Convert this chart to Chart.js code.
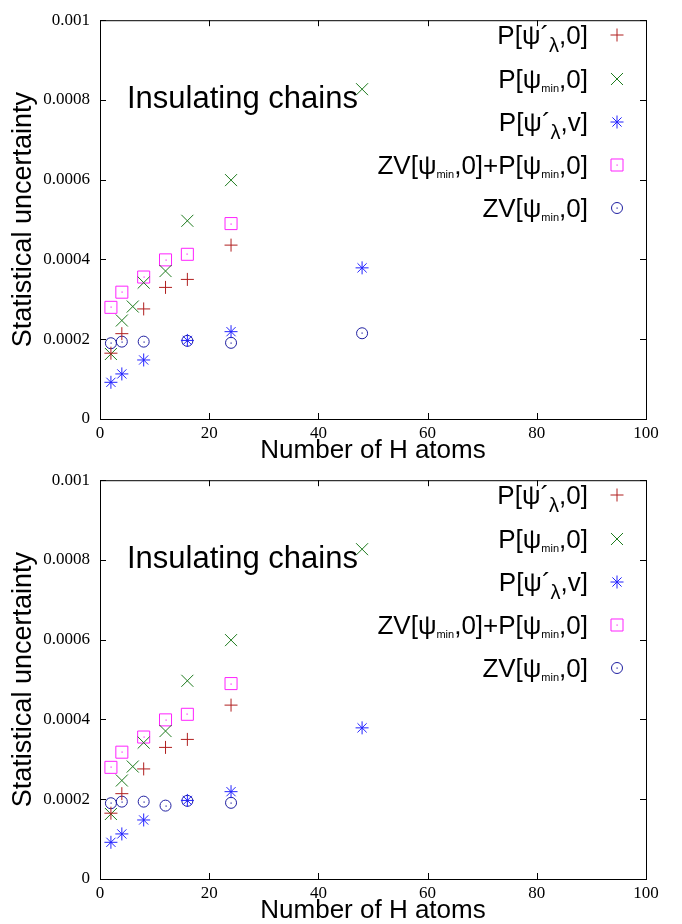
<!DOCTYPE html>
<html>
<head>
<meta charset="utf-8">
<script src="https://cdn.jsdelivr.net/npm/chart.js@4/dist/chart.umd.min.js"></script>
<style>
  body { margin: 0; background: #fff; }
  .panel { width: 682px; height: 460px; }
  canvas { display: block; }
</style>
</head>
<body>
<div class="panel"><canvas id="top" width="682" height="460"></canvas></div>
<div class="panel"><canvas id="bottom" width="682" height="460"></canvas></div>
<script>
// statistical uncertainty vs number of H atoms
const atomsPLambda0 = [2, 4, 8, 12, 16, 24];
const pLambda0 = [0.000165, 0.000214, 0.000276, 0.00033, 0.00035, 0.000436];

const atomsPMin0 = [2, 4, 6, 8, 12, 16, 24, 48];
const pMin0 = [0.000163, 0.000247, 0.000282, 0.000342, 0.000371, 0.000497, 0.000599, 0.000827];

const atomsPLambdaV = [2, 4, 8, 16, 24, 48];
const pLambdaV = [0.000092, 0.000113, 0.000148, 0.000197, 0.000219, 0.000379];

const atomsZvPlusP = [2, 4, 8, 12, 16, 24];
const zvPlusP = [0.00028, 0.000318, 0.000356, 0.000399, 0.000413, 0.00049];

const atomsZvTop = [2, 4, 8, 16, 24, 48];
const zvTop = [0.00019, 0.000194, 0.000194, 0.000196, 0.000191, 0.000215];

const atomsZvBottom = [2, 4, 8, 12, 16, 24];
const zvBottom = [0.00019, 0.000194, 0.000194, 0.000184, 0.000196, 0.000191];

const xTicks = [0, 20, 40, 60, 80, 100];
const yTicks = [0, 0.0002, 0.0004, 0.0006, 0.0008, 0.001];

const sans = '"Liberation Sans", Arial, sans-serif';
const serif = '"Liberation Serif", "Times New Roman", serif';

// legend labels as rich text pieces: [text, size, dy]
const legendLabels = [
  [['P[ψ´', 26, 0], ['λ', 20, 8], [',0]', 26, 0]],
  [['P[ψ', 26, 0], ['min', 11, 4], [',0]', 26, 0]],
  [['P[ψ´', 26, 0], ['λ', 20, 8], [',v]', 26, 0]],
  [['ZV[ψ', 26, 0], ['min', 11, 4], [',0]+P[ψ', 26, 0], ['min', 11, 4], [',0]', 26, 0]],
  [['ZV[ψ', 26, 0], ['min', 11, 4], [',0]', 26, 0]]
];

const toPoints = (xs, ys) => xs.map((x, i) => ({ x: x, y: ys[i] }));

const framePlugin = {
  id: 'frame',
  beforeDatasetsDraw(chart) {
    const { ctx, chartArea: a, scales } = chart;
    ctx.save();
    ctx.strokeStyle = '#000';
    ctx.lineWidth = 1;
    ctx.strokeRect(a.left + 0.5, a.top + 0.5, a.right - a.left, a.bottom - a.top);
    ctx.beginPath();
    xTicks.forEach(v => {
      const px = Math.round(scales.x.getPixelForValue(v)) + 0.5;
      ctx.moveTo(px, a.bottom); ctx.lineTo(px, a.bottom - 6);
      ctx.moveTo(px, a.top); ctx.lineTo(px, a.top + 6);
    });
    yTicks.forEach(v => {
      const py = Math.round(scales.y.getPixelForValue(v)) + 0.5;
      ctx.moveTo(a.left, py); ctx.lineTo(a.left + 6, py);
      ctx.moveTo(a.right, py); ctx.lineTo(a.right - 6, py);
    });
    ctx.stroke();
    ctx.restore();
  }
};

// small dot in the middle of the square and circle markers
const dotPlugin = {
  id: 'dots',
  afterDatasetsDraw(chart) {
    const ctx = chart.ctx;
    ctx.save();
    chart.data.datasets.forEach((ds, i) => {
      if (!ds.centerDot) return;
      ctx.fillStyle = ds.borderColor;
      chart.getDatasetMeta(i).data.forEach(pt => {
        ctx.fillRect(Math.round(pt.x) - 0.5, Math.round(pt.y) - 0.5, 1.2, 1.2);
      });
    });
    ctx.restore();
  }
};

const notePlugin = {
  id: 'notes',
  afterDraw(chart) {
    const ctx = chart.ctx;
    ctx.save();
    ctx.fillStyle = '#000';
    ctx.textBaseline = 'alphabetic';
    ctx.font = '31px ' + sans;
    ctx.textAlign = 'left';
    ctx.fillText('Insulating chains', 127, 108);

    const rowY = [35, 79, 122, 165, 208];
    const textRight = 588;
    const markX = 617;
    legendLabels.forEach((parts, i) => {
      let w = 0;
      parts.forEach(p => { ctx.font = p[1] + 'px ' + sans; w += ctx.measureText(p[0]).width; });
      let x = textRight - w;
      const base = rowY[i] + 9;
      ctx.fillStyle = '#000';
      parts.forEach(p => {
        ctx.font = p[1] + 'px ' + sans;
        ctx.fillText(p[0], x, base + p[2]);
        x += ctx.measureText(p[0]).width;
      });
      const ds = chart.data.datasets[i];
      ctx.strokeStyle = ds.borderColor;
      ctx.fillStyle = 'rgba(0,0,0,0)';
      ctx.lineWidth = 1;
      Chart.helpers.drawPoint(ctx, {
        pointStyle: ds.pointStyle, radius: ds.pointRadius, borderWidth: 1, rotation: 0
      }, markX, rowY[i]);
      if (ds.centerDot) {
        ctx.fillStyle = ds.borderColor;
        ctx.fillRect(markX - 0.5, rowY[i] - 0.5, 1.2, 1.2);
      }
    });
    ctx.restore();
  }
};

const makeChart = (id, zvAtoms, zvValues) => {
  const ctx = document.getElementById(id).getContext('2d');
  return new Chart(ctx, {
    type: 'scatter',
    data: {
      datasets: [
        { data: toPoints(atomsPLambda0, pLambda0), pointStyle: 'cross', pointRadius: 6.5,
          borderColor: '#b01f1f', backgroundColor: 'transparent', borderWidth: 1 },
        { data: toPoints(atomsPMin0, pMin0), pointStyle: 'crossRot', pointRadius: 8.5,
          borderColor: '#1c7a1c', backgroundColor: 'transparent', borderWidth: 1 },
        { data: toPoints(atomsPLambdaV, pLambdaV), pointStyle: 'star', pointRadius: 6.5,
          borderColor: '#2222ff', backgroundColor: 'transparent', borderWidth: 1 },
        { data: toPoints(atomsZvPlusP, zvPlusP), pointStyle: 'rect', pointRadius: 8.5,
          borderColor: '#ff22ff', backgroundColor: 'transparent', borderWidth: 1, centerDot: true },
        { data: toPoints(zvAtoms, zvValues), pointStyle: 'circle', pointRadius: 5.5,
          borderColor: '#1f1fa0', backgroundColor: 'transparent', borderWidth: 1, centerDot: true }
      ]
    },
    options: {
      responsive: false,
      animation: false,
      events: [],
      layout: { padding: { left: 0, right: 36, top: 15, bottom: 0 } },
      plugins: { legend: { display: false }, tooltip: { enabled: false } },
      scales: {
        x: {
          type: 'linear', min: 0, max: 100,
          grid: { display: false, drawTicks: false },
          border: { display: false },
          afterFit: s => { s.height = 41; },
          afterBuildTicks: s => { s.ticks = xTicks.map(v => ({ value: v })); },
          ticks: { padding: 4, color: '#000', font: { family: serif, size: 17 } },
          title: { display: true, text: 'Number of H atoms', color: '#000',
                   font: { family: sans, size: 26, lineHeight: 1 }, padding: { top: 0, bottom: -4 } }
        },
        y: {
          type: 'linear', min: 0, max: 0.001,
          grid: { display: false, drawTicks: false },
          border: { display: false },
          afterFit: s => { s.width = 100; },
          afterBuildTicks: s => { s.ticks = yTicks.map(v => ({ value: v })); },
          ticks: { padding: 10, color: '#000', font: { family: serif, size: 17 },
                   callback: v => String(Number(v.toFixed(4))) },
          title: { display: true, text: 'Statistical uncertainty', color: '#000',
                   font: { family: sans, size: 27, lineHeight: 1 }, padding: { top: 10, bottom: 0 } }
        }
      }
    },
    plugins: [framePlugin, dotPlugin, notePlugin]
  });
};

makeChart('top', atomsZvTop, zvTop);
makeChart('bottom', atomsZvBottom, zvBottom);
</script>
</body>
</html>
